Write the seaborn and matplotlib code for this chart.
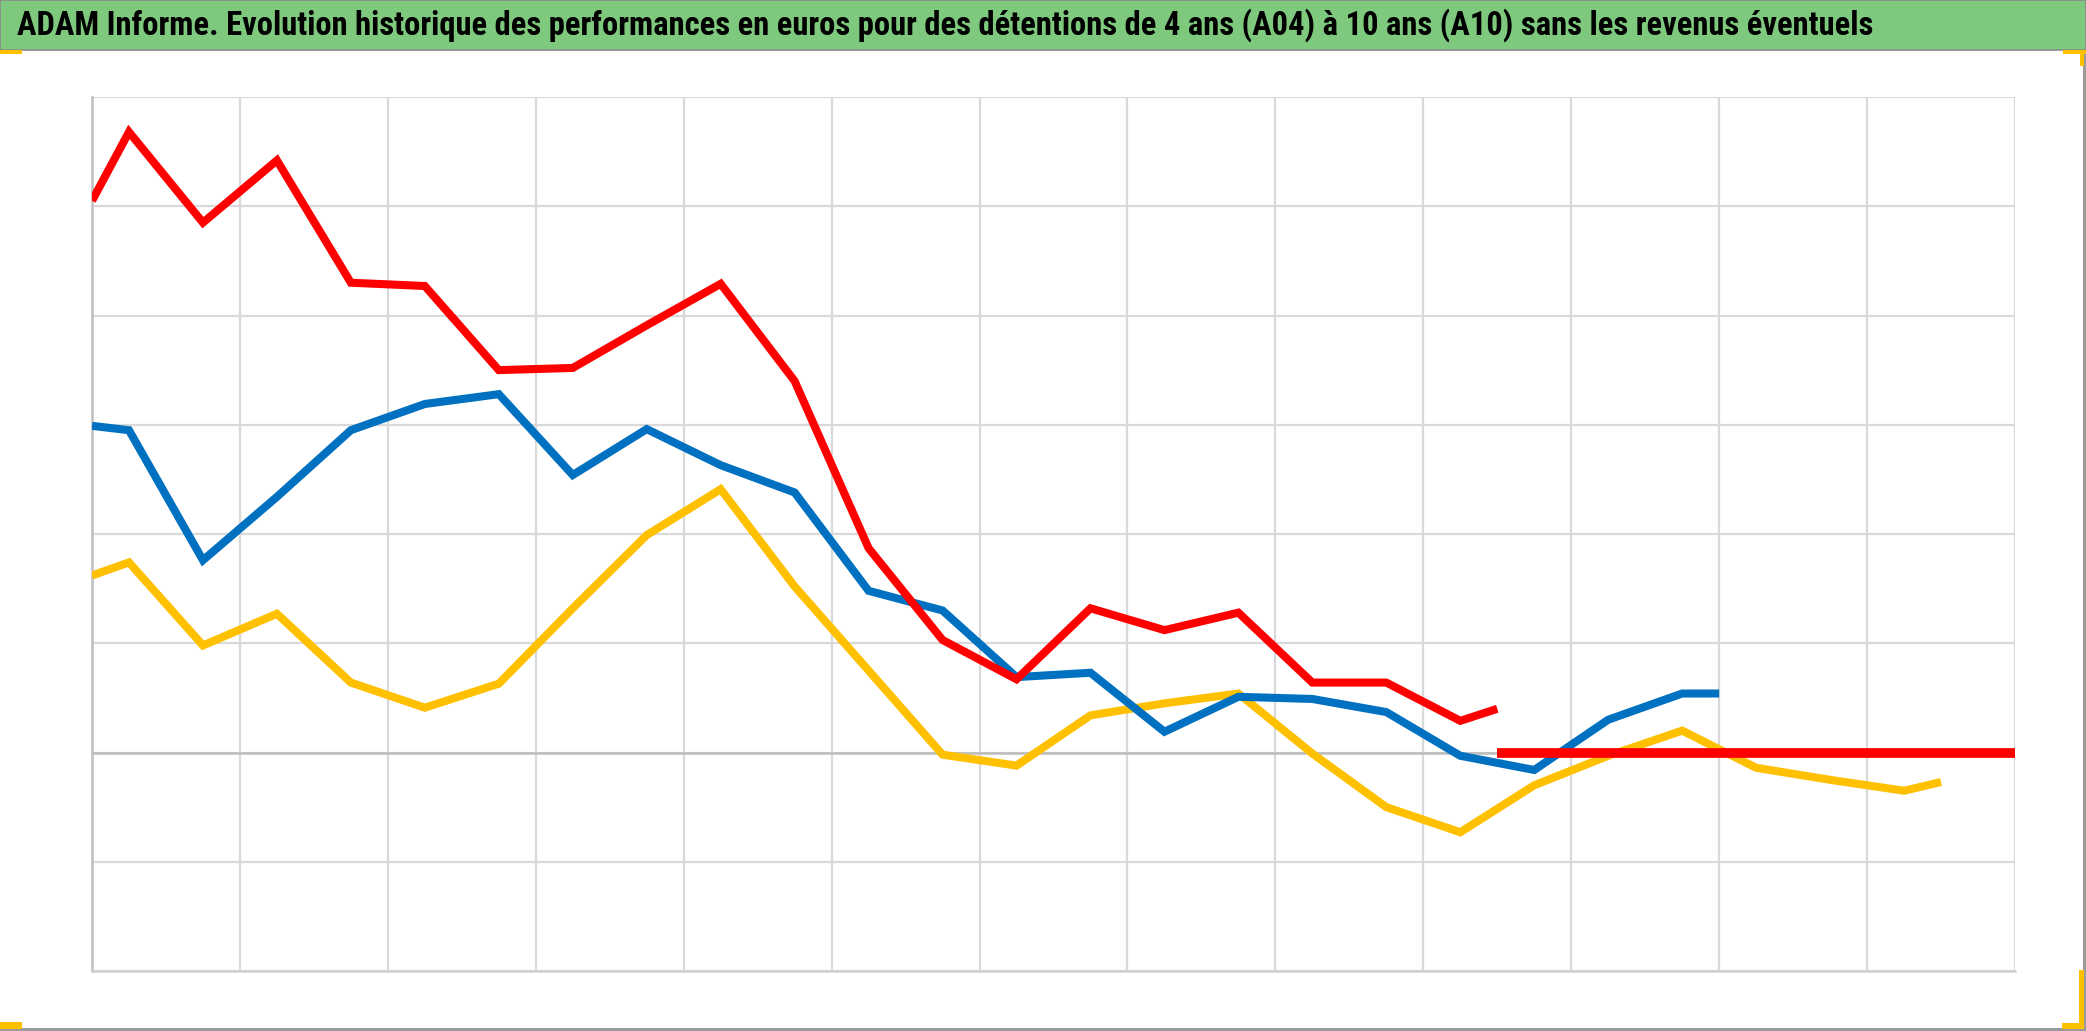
import matplotlib
matplotlib.use("Agg")
import matplotlib.pyplot as plt
from matplotlib import font_manager
from matplotlib.patches import Rectangle
import seaborn as sns
import pandas as pd

# ---- data (x in grid units, values in grid units) ----
title = ("ADAM Informe. Evolution historique des performances en euros pour des "
         "détentions de 4 ans (A04) à 10 ans (A10) sans les revenus éventuels")

yellow_x = [0, 0.25, 0.75, 1.25, 1.75, 2.25, 2.75, 3.25, 3.75, 4.25, 4.75, 5.25, 5.75,
            6.25, 6.75, 7.25, 7.75, 8.25, 8.75, 9.25, 9.75, 10.25, 10.75, 11.25, 11.75,
            12.25, 12.5]
yellow_y = [1.62, 1.74, 0.98, 1.27, 0.64, 0.41, 0.63, 1.32, 1.99, 2.41, 1.52, 0.75, -0.02,
            -0.12, 0.34, 0.45, 0.54, -0.01, -0.50, -0.73, -0.30, -0.03, 0.20, -0.14, -0.25,
            -0.35, -0.27]

blue_x = [0, 0.25, 0.75, 1.25, 1.75, 2.25, 2.75, 3.25, 3.75, 4.25, 4.75, 5.25, 5.75,
          6.25, 6.75, 7.25, 7.75, 8.25, 8.75, 9.25, 9.75, 10.25, 10.75, 11.0]
blue_y = [2.99, 2.95, 1.76, 2.34, 2.95, 3.19, 3.28, 2.54, 2.96, 2.63, 2.38, 1.48, 1.30,
          0.69, 0.73, 0.19, 0.51, 0.49, 0.37, -0.03, -0.16, 0.30, 0.54, 0.54]

red_x = [0, 0.25, 0.75, 1.25, 1.75, 2.25, 2.75, 3.25, 3.75, 4.25, 4.75, 5.25, 5.75,
         6.25, 6.75, 7.25, 7.75, 8.25, 8.75, 9.25, 9.5]
red_y = [5.05, 5.68, 4.85, 5.42, 4.30, 4.27, 3.50, 3.52, 3.91, 4.29, 3.40, 1.87, 1.03,
         0.67, 1.32, 1.12, 1.28, 0.64, 0.64, 0.29, 0.40]

flat_x = [9.5, 13.0]
flat_y = [0.0, 0.0]

series_order = ["yellow", "blue", "red", "flat"]
palette = {"yellow": "#FFC000", "blue": "#0070C0", "red": "#FF0000", "flat": "#FF0000"}

frames = []
for name, xs, ys in [("yellow", yellow_x, yellow_y), ("blue", blue_x, blue_y),
                     ("red", red_x, red_y), ("flat", flat_x, flat_y)]:
    frames.append(pd.DataFrame({"x": xs, "v": ys, "serie": name}))
df = pd.concat(frames, ignore_index=True)

# ---- figure ----
W, H = 2086, 1031
fig = plt.figure(figsize=(W / 100, H / 100), dpi=100)
fig.patch.set_facecolor("white")

ax = fig.add_axes([92 / W, 1 - 971 / H, (2015 - 92) / W, (971 - 97) / H])
ax.set_facecolor("white")

for name in series_order:
    sub = df[df["serie"] == name]
    sns.lineplot(data=sub, x="x", y="v", color=palette[name], ax=ax, sort=False,
                 estimator=None, linewidth=7.0 if name == "flat" else 5.8,
                 legend=False, solid_joinstyle="miter", solid_capstyle="butt", zorder=3)

ax.set_xlim(0, 13)
ax.set_ylim(-2, 6)
ax.set_xticks(range(0, 14))
ax.set_yticks(range(-2, 7))
ax.grid(True, color="#D9D9D9", linewidth=1.6, zorder=0)
ax.set_axisbelow(True)
ax.axhline(0, color="#BDBDBD", linewidth=1.8, zorder=1)
ax.tick_params(left=False, bottom=False, labelleft=False, labelbottom=False)
ax.set_xlabel("")
ax.set_ylabel("")
for s in ["top", "right"]:
    ax.spines[s].set_visible(False)
ax.spines["left"].set_color("#BFBFBF")
ax.spines["left"].set_linewidth(1.8)
ax.spines["bottom"].set_color("#D0D0D0")
ax.spines["bottom"].set_linewidth(1.8)

# ---- title bar ----
fig.patches.append(Rectangle((0, 1 - 50 / H), 1, 50 / H, transform=fig.transFigure,
                             facecolor="#7EC97E", edgecolor="#8A8A8A", linewidth=1.2,
                             zorder=0))

# prefer a bold narrow/condensed face (closest to Calibri Bold), else Roboto
fprop = None
prefs = ["Liberation Sans Narrow", "Roboto Condensed", "Open Sans Condensed",
         "Noto Sans Condensed", "DejaVu Sans Condensed"]
cands = []
for f in font_manager.fontManager.ttflist:
    nm = f.name
    is_narrow = ("Narrow" in nm or "Condensed" in nm or
                 str(f.stretch).lower() in ("condensed", "semi-condensed", "ultra-condensed",
                                            "extra-condensed"))
    try:
        w = int(f.weight)
    except Exception:
        w = 700 if "bold" in str(f.weight).lower() else 400
    if is_narrow and 600 <= w <= 800 and f.style == "normal":
        rank = len(prefs)
        for i, p in enumerate(prefs):
            if nm.startswith(p.split()[0]) and (p.split()[-1] in nm or p.split()[-1] in str(f.stretch).title()):
                rank = i
                break
        cands.append((rank, f.fname))
if cands:
    cands.sort()
    fprop = font_manager.FontProperties(fname=cands[0][1])
else:
    fprop = font_manager.FontProperties(family=["Roboto", "DejaVu Sans"], weight="bold")

t = fig.text(17 / W, 1 - 25 / H, title, fontproperties=fprop, color="black",
             ha="left", va="center")
t.set_fontsize(22)
fig.canvas.draw()
bb = t.get_window_extent(fig.canvas.get_renderer())
t.set_fontsize(t.get_fontsize() * 1860 / bb.width)

# ---- frame decorations ----
def frect(x0, y0, x1, y1, color):
    fig.patches.append(Rectangle((x0 / W, 1 - y1 / H), (x1 - x0) / W, (y1 - y0) / H,
                                 transform=fig.transFigure, facecolor=color,
                                 edgecolor="none", zorder=2))

frect(2083, 50, 2086, 1031, "#9A9A9A")   # right border
frect(0, 1028, 2086, 1031, "#9A9A9A")    # bottom border
orange = "#FFC000"
frect(0, 50, 22, 54, orange)
frect(2063, 50, 2086, 54, orange)
frect(2080, 50, 2084, 66, orange)
frect(0, 1022, 22, 1029, orange)
frect(2062, 1023, 2084, 1029, orange)
frect(2079, 970, 2084, 1029, orange)

fig.savefig("out.png", dpi=100, facecolor="white")
